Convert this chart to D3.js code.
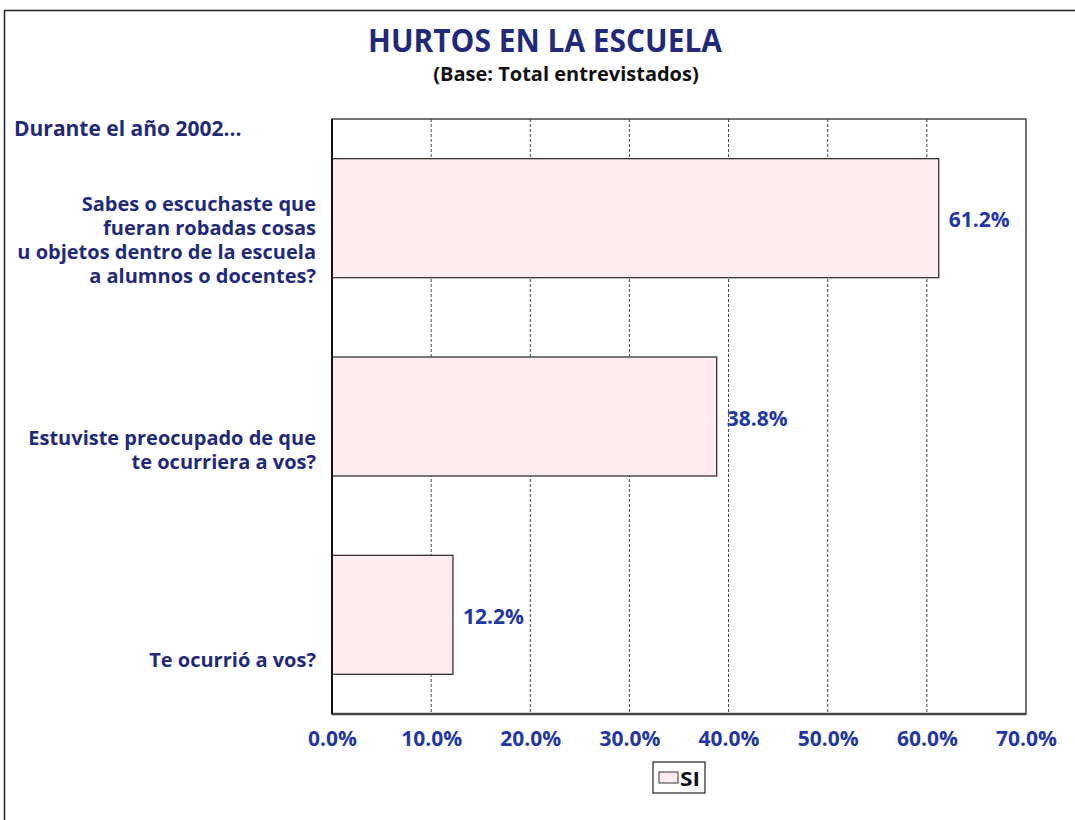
<!DOCTYPE html>
<html>
<head>
<meta charset="utf-8">
<script src="https://cdn.jsdelivr.net/npm/d3@7"></script>
<style>
  body { margin: 0; background: #fff; }
  svg { display: block; }
</style>
</head>
<body>
<svg id="chart" width="1075" height="820"></svg>
<script>
// data
var categories = [
  ["Sabes o escuchaste que", "fueran robadas cosas", "u objetos dentro de la escuela", "a alumnos o docentes?"],
  ["Estuviste preocupado de que", "te ocurriera a vos?"],
  ["Te ocurrió a vos?"]
];
var values = [61.2, 38.8, 12.2];
var ticks = [0, 10, 20, 30, 40, 50, 60, 70];
var seriesName = "SI";

var navy = "#1f2a7c";
var blue = "#2237a6";
var labelFont = "'Open Sans', 'DejaVu Sans', sans-serif";

var svg = d3.select("#chart");
var margin = { top: 119, right: 49, bottom: 106, left: 332 },
  width = 1075 - margin.left - margin.right,
  height = 820 - margin.top - margin.bottom;

// outer frame
svg.append("rect")
  .attr("x", 4.5).attr("y", 10.5)
  .attr("width", 1090).attr("height", 830)
  .attr("fill", "none").attr("stroke", "#222").attr("stroke-width", 1.5);

svg.append("text")
  .attr("x", 368).attr("y", 52)
  .attr("textLength", 354)
  .attr("lengthAdjust", "spacingAndGlyphs")
  .attr("font-family", labelFont)
  .attr("font-weight", "bold")
  .attr("font-size", 33)
  .attr("fill", navy)
  .text("HURTOS EN LA ESCUELA");

svg.append("text")
  .attr("x", 566).attr("y", 81)
  .attr("text-anchor", "middle")
  .attr("font-family", labelFont)
  .attr("font-weight", "bold")
  .attr("font-size", 20)
  .attr("fill", "#111")
  .text("(Base: Total entrevistados)");

svg.append("text")
  .attr("x", 14).attr("y", 136)
  .attr("font-family", labelFont)
  .attr("font-weight", "bold")
  .attr("font-size", 21)
  .attr("fill", navy)
  .text("Durante el año 2002...");

var g = svg.append("g")
  .attr("transform", "translate(" + margin.left + "," + margin.top + ")");

var x = d3.scaleLinear().domain([0, 70]).range([0, width]);
var y = d3.scaleBand()
  .domain(d3.range(values.length))
  .range([0, height])
  .paddingInner(0.4)
  .paddingOuter(0.2);
// category labels sit a little lower than the bars, drifting down
var yLabel = d3.scalePoint()
  .domain(d3.range(values.length))
  .range([128, 548]);

// vertical grid
g.append("g")
  .selectAll("line")
  .data(ticks.slice(1, -1))
  .enter()
  .append("line")
  .attr("x1", function(d) { return x(d); })
  .attr("x2", function(d) { return x(d); })
  .attr("y1", 0)
  .attr("y2", height)
  .attr("stroke", "#444")
  .attr("stroke-width", 1)
  .attr("stroke-dasharray", "3,2");

// bars
g.append("g")
  .selectAll("rect")
  .data(values)
  .enter()
  .append("rect")
  .attr("x", x(0))
  .attr("y", function(d, i) { return y(i); })
  .attr("width", function(d) { return x(d) - x(0); })
  .attr("height", y.bandwidth())
  .attr("fill", "#ffebef")
  .attr("stroke", "#333")
  .attr("stroke-width", 1.3);

// value labels
g.append("g")
  .selectAll("text")
  .data(values)
  .enter()
  .append("text")
  .attr("x", function(d) { return x(d) + 10; })
  .attr("y", function(d, i) { return y(i) + y.bandwidth() / 2 + 9; })
  .attr("font-family", labelFont)
  .attr("font-weight", "bold")
  .attr("font-size", 21)
  .attr("fill", blue)
  .text(function(d) { return d.toFixed(1) + "%"; });

// plot frame
g.append("rect")
  .attr("width", width).attr("height", height)
  .attr("fill", "none").attr("stroke", "#444").attr("stroke-width", 1.5);
g.append("line")
  .attr("x1", 0).attr("x2", width)
  .attr("y1", height).attr("y2", height)
  .attr("stroke", "#444").attr("stroke-width", 2.5);
g.append("line")
  .attr("x1", 0).attr("x2", 0)
  .attr("y1", 0).attr("y2", height)
  .attr("stroke", "#111").attr("stroke-width", 2);

// x axis
var xAxis = g.append("g")
  .attr("transform", "translate(0," + height + ")")
  .call(d3.axisBottom(x).tickValues(ticks).tickSize(0).tickPadding(0)
    .tickFormat(function(d) { return d.toFixed(1) + "%"; }));
xAxis.select(".domain").remove();
xAxis.selectAll("text")
  .attr("y", 32)
  .attr("dy", null)
  .attr("font-family", labelFont)
  .attr("font-weight", "bold")
  .attr("font-size", 21)
  .attr("fill", blue);

// category labels
var cat = g.append("g")
  .selectAll("text")
  .data(categories)
  .enter()
  .append("text")
  .attr("text-anchor", "end")
  .attr("font-family", labelFont)
  .attr("font-weight", "bold")
  .attr("font-size", 20)
  .attr("fill", navy)
  .attr("transform", function(d, i) {
    return "translate(-16," + yLabel(i) + ")";
  });
cat.selectAll("tspan")
  .data(function(d) {
    return d.map(function(t, j) { return { t: t, j: j, n: d.length }; });
  })
  .enter()
  .append("tspan")
  .attr("x", 0)
  .attr("y", function(d) { return (d.j - (d.n - 1) / 2) * 24; })
  .text(function(d) { return d.t; });

// legend
var legend = svg.append("g").attr("transform", "translate(653,762)");
legend.append("rect")
  .attr("width", 52).attr("height", 31)
  .attr("fill", "#fff").attr("stroke", "#333").attr("stroke-width", 1.3);
legend.append("rect")
  .attr("x", 6).attr("y", 10).attr("width", 19).attr("height", 11)
  .attr("fill", "#ffebef").attr("stroke", "#333").attr("stroke-width", 1);
legend.append("text")
  .attr("x", 27).attr("y", 24)
  .attr("textLength", 20)
  .attr("lengthAdjust", "spacingAndGlyphs")
  .attr("font-family", labelFont)
  .attr("font-weight", "bold")
  .attr("font-size", 20)
  .attr("fill", "#111")
  .text(seriesName);
</script>
</body>
</html>
